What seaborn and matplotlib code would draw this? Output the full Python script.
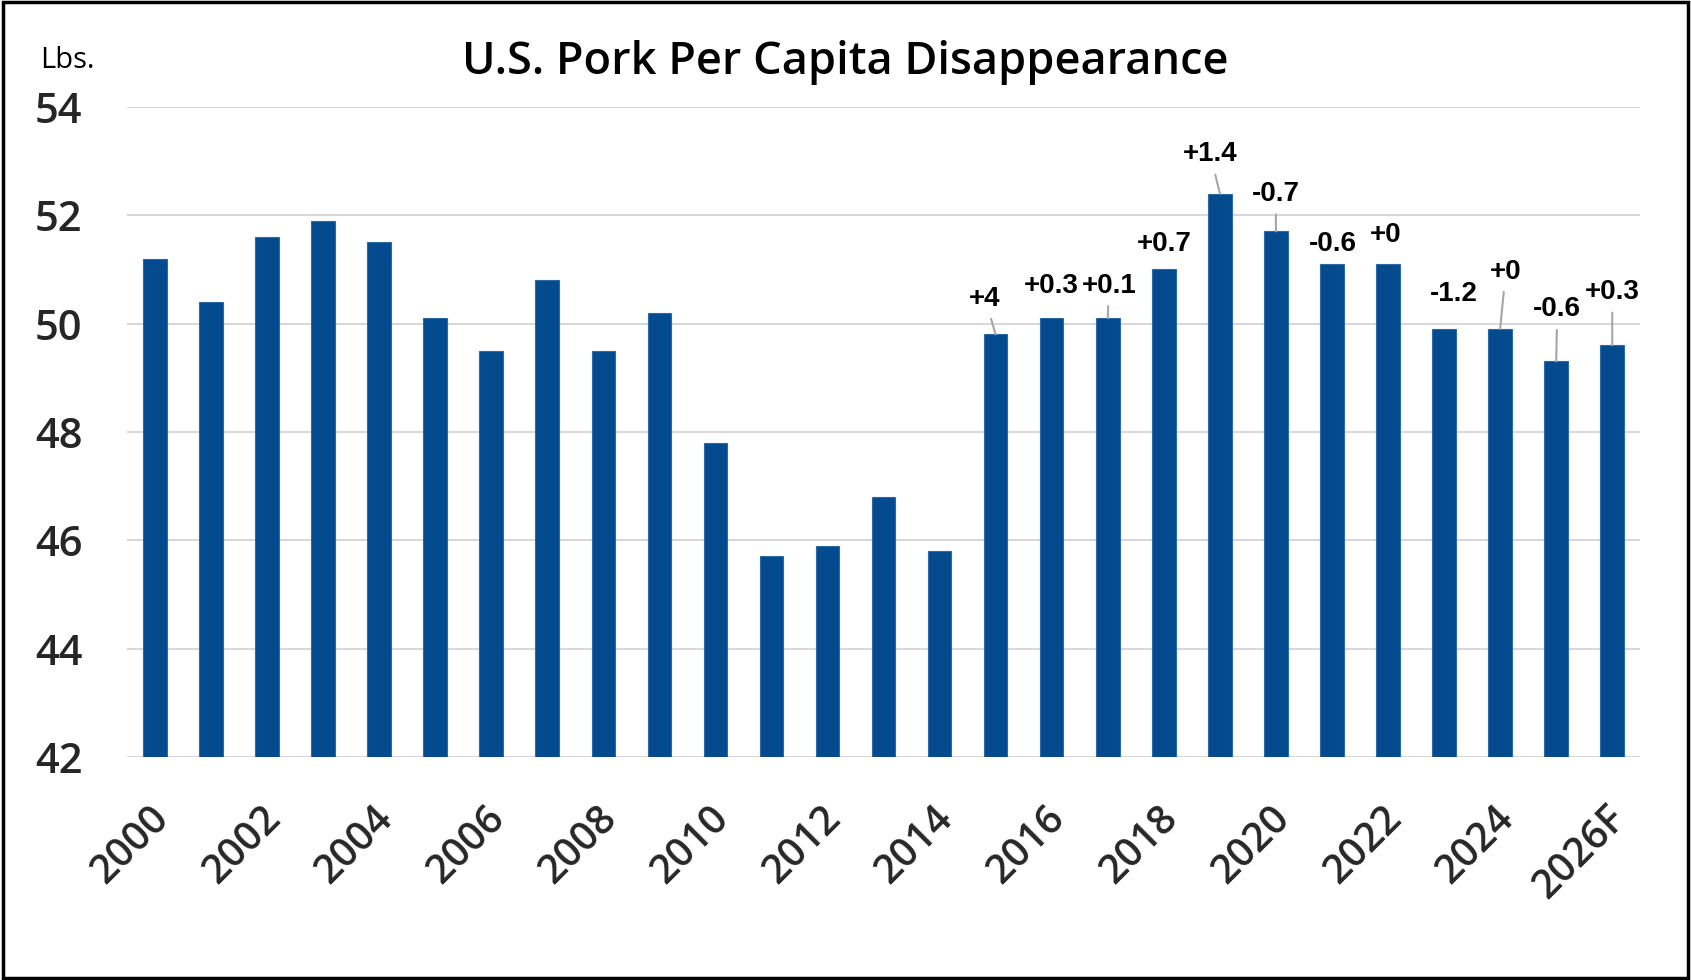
import matplotlib
matplotlib.use("Agg")
import matplotlib.pyplot as plt
import matplotlib.transforms as mtransforms
from matplotlib import font_manager
import seaborn as sns
import pandas as pd

# ---- data ----
years = ["2000", "2001", "2002", "2003", "2004", "2005", "2006", "2007", "2008",
         "2009", "2010", "2011", "2012", "2013", "2014", "2015", "2016", "2017",
         "2018", "2019", "2020", "2021", "2022", "2023", "2024", "2025", "2026F"]
pounds = [51.2, 50.4, 51.6, 51.9, 51.5, 50.1, 49.5, 50.8, 49.5, 50.2, 47.8, 45.7,
          45.9, 46.8, 45.8, 49.8, 50.1, 50.1, 51.0, 52.4, 51.7, 51.1, 51.1, 49.9,
          49.9, 49.3, 49.6]
change_years = ["2015", "2016", "2017", "2018", "2019", "2020", "2021", "2022",
                "2023", "2024", "2025", "2026F"]
change_labels = ["+4", "+0.3", "+0.1", "+0.7", "+1.4", "-0.7", "-0.6", "+0",
                 "-1.2", "+0", "-0.6", "+0.3"]
tick_labels = ["2000", "2002", "2004", "2006", "2008", "2010", "2012", "2014",
               "2016", "2018", "2020", "2022", "2024", "2026F"]

# ---- layout of change labels (offset in category units, data units) and leader flag ----
label_dx = [-0.19, 0.0, 0.02, 0.0, -0.17, 0.0, 0.02, -0.04, 0.17, 0.1, 0.02, 0.0]
label_dy = [0.66, 0.60, 0.60, 0.47, 0.72, 0.69, 0.37, 0.53, 0.64, 1.06, 0.96, 0.98]
leader = [True, False, True, False, True, True, False, False, False, True, True, True]

BLUE = "#034A8F"

sns.set_theme(style="white")
plt.rcParams["font.family"] = ["Open Sans", "DejaVu Sans"]

installed = {f.name for f in font_manager.fontManager.ttflist}
if "Liberation Sans Narrow" in installed:
    ann_family, ann_size = ["Liberation Sans Narrow", "DejaVu Sans"], 23
else:
    ann_family, ann_size = ["Liberation Sans", "DejaVu Sans"], 20

fig = plt.figure(figsize=(16.91, 9.80), dpi=100)
ax = fig.add_axes([0.075, 0.2276, 0.895, 0.6634])

df = pd.DataFrame({"year": years, "lbs": pounds})
sns.barplot(data=df, x="year", y="lbs", order=years, color=BLUE, saturation=1,
            width=0.42, ax=ax, edgecolor="#2F6AA8", linewidth=0.8)

ax.set_ylim(42, 54)
ax.set_xlim(-0.5, len(years) - 0.5)
ax.set_yticks([42, 44, 46, 48, 50, 52, 54])
ax.yaxis.grid(True, color="#D9D9D9", linewidth=1.5)
ax.set_axisbelow(True)
for s in ax.spines.values():
    s.set_visible(False)
ax.set_xlabel("")
ax.set_ylabel("")

ax.tick_params(axis="y", length=0, labelsize=30, pad=49)
for t in ax.get_yticklabels():
    t.set_horizontalalignment("center")
    t.set_fontweight("semibold")

tick_pos = [years.index(t) for t in tick_labels]
ax.set_xticks(tick_pos)
ax.set_xticklabels(tick_labels, rotation=45, ha="right", va="center",
                   rotation_mode="anchor", fontsize=29, fontweight="semibold")
ax.tick_params(axis="x", length=0, pad=40)
shift = mtransforms.ScaledTranslation(0.08, 0, fig.dpi_scale_trans)
for t in ax.get_xticklabels():
    t.set_transform(t.get_transform() + shift)

# change labels
for yr, lab, dx, dy, ld in zip(change_years, change_labels, label_dx, label_dy, leader):
    i = years.index(yr)
    v = pounds[i]
    ax.annotate(lab, xy=(i, v), xytext=(i + dx, v + dy),
                ha="center", va="center", fontsize=ann_size, fontweight="bold",
                family=ann_family, color="black",
                arrowprops=dict(arrowstyle="-", color="#A6A6A6", lw=1.5,
                                shrinkA=3, shrinkB=0) if ld else None)

fig.text(0.5, 0.936, "U.S. Pork Per Capita Disappearance", ha="center", va="center",
         fontsize=32.5, fontweight="semibold", color="black")
fig.text(0.024, 0.938, "Lbs.", ha="left", va="center", fontsize=21, color="black")

fig.patches.append(plt.Rectangle((0.002, 0.002), 0.996, 0.996, transform=fig.transFigure,
                                 fill=False, edgecolor="black", linewidth=2.5))

fig.savefig("out.png", dpi=100, facecolor="white")
